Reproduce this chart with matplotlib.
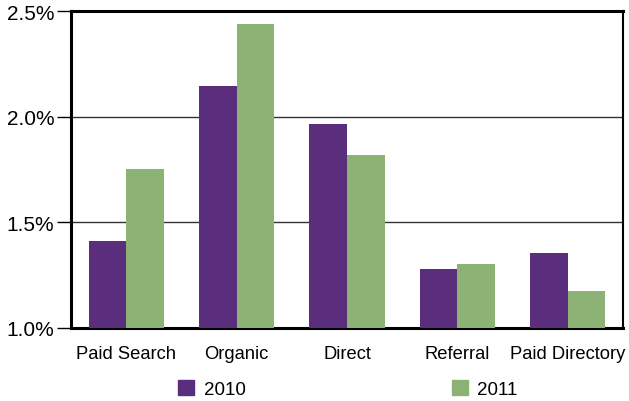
import matplotlib.pyplot as plt
import numpy as np
from matplotlib.patches import Patch
from matplotlib.ticker import FuncFormatter

plt.rcParams["font.family"] = ["Liberation Sans", "DejaVu Sans"]

categories = ["Paid Search", "Organic", "Direct", "Referral", "Paid Directory"]
rate_2010 = [1.41, 2.147, 1.967, 1.28, 1.355]
rate_2011 = [1.753, 2.441, 1.82, 1.303, 1.175]
yticks = [1.0, 1.5, 2.0, 2.5]

purple = "#5a2d7d"
green = "#8cb276"

fig = plt.figure(figsize=(6.29, 4.02), dpi=100)
ax = fig.add_axes([0.1129, 0.1816, 0.8776, 0.7874])

x = np.arange(len(categories))
w = 0.34
ax.bar(x - w / 2, rate_2010, w, color=purple, zorder=3)
ax.bar(x + w / 2, rate_2011, w, color=green, zorder=3)

ax.set_xlim(-0.5, len(categories) - 0.5)
ax.set_ylim(1.0, 2.5)
ax.set_yticks(yticks)
ax.yaxis.set_major_formatter(FuncFormatter(lambda v, _: f"{v:.1f}%"))
ax.set_xticks(x)
ax.set_xticklabels(categories)
ax.tick_params(axis="y", length=10, width=1, labelsize=15, pad=2)
ax.tick_params(axis="x", length=0, labelsize=13.2, pad=12)
ax.grid(axis="y", color="#333333", linewidth=1, zorder=1)

for side in ["left", "bottom", "top"]:
    ax.spines[side].set_linewidth(2.2)
ax.spines["right"].set_linewidth(1.5)

handles = [Patch(color=purple, label="2010"), Patch(color=green, label="2011")]
fig.legend(handles=handles, loc="lower center", bbox_to_anchor=(0.553, -0.035), ncol=2,
           frameon=False, fontsize=13.5, handlelength=0.85, handleheight=0.85,
           handletextpad=0.5, columnspacing=11)

fig.savefig("out.png", dpi=100)
